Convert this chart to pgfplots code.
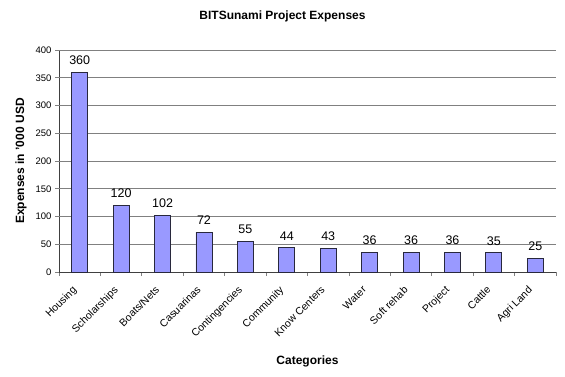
\documentclass[border=0pt]{standalone}
\usepackage{pgfplots}
\pgfplotsset{compat=1.18}
\usepackage{fontspec}
\setmainfont{Liberation Sans}
\definecolor{barfill}{RGB}{153,153,255}
\definecolor{baredge}{RGB}{40,40,60}
\begin{document}
\begin{tikzpicture}[x=1pt,y=1pt]
\useasboundingbox (0,0) rectangle (565,376);
\node[font=\fontsize{12}{14}\selectfont\bfseries] at (282.5,360) {BITSunami Project Expenses};
\begin{axis}[
  at={(59pt,104pt)}, anchor=south west,
  scale only axis, width=497pt, height=222pt,
  ymin=0, ymax=400, ytick={0,50,...,400},
  xmin=-0.5, xmax=11.5,
  xtick={-0.5,0.5,...,11.5},
  xticklabels={},
  extra x ticks={0,1,2,3,4,5,6,7,8,9,10,11},
  extra x tick labels={Housing,Scholarships,Boats/Nets,Casuarinas,Contingencies,Community,Know Centers,Water,Soft rehab,Project,Cattle,Agri Land},
  extra x tick style={major tick length=0pt},
  major tick length=4pt,
  tick align=outside,
  axis x line*=bottom, axis y line*=left,
  axis line style={-, draw=black!75, line width=0.8pt},
  tick style={line width=0.8pt},
  /pgf/number format/assume math mode=true,
  yticklabel style={font=\fontsize{9.5}{11}\selectfont},
  xticklabel style={font=\fontsize{10.5}{12}\selectfont, rotate=45, anchor=north east, inner sep=0pt, xshift=-14.9pt, yshift=-3.6pt},
  ylabel={Expenses in '000 USD},
  ylabel style={font=\fontsize{12}{14}\selectfont\bfseries, at={(axis description cs:-0.0765,0.5)}, anchor=center},
  xlabel={Categories},
  xlabel style={font=\fontsize{12}{14}\selectfont\bfseries, at={(axis description cs:0.5,-0.405)}, anchor=center},
  clip=false,
]
% horizontal grid lines
\addplot[draw=black!50, line width=0.9pt, mark=none, forget plot] coordinates {(-0.5,50) (11.5,50)};
\addplot[draw=black!50, line width=0.9pt, mark=none, forget plot] coordinates {(-0.5,100) (11.5,100)};
\addplot[draw=black!50, line width=0.9pt, mark=none, forget plot] coordinates {(-0.5,150) (11.5,150)};
\addplot[draw=black!50, line width=0.9pt, mark=none, forget plot] coordinates {(-0.5,200) (11.5,200)};
\addplot[draw=black!50, line width=0.9pt, mark=none, forget plot] coordinates {(-0.5,250) (11.5,250)};
\addplot[draw=black!50, line width=0.9pt, mark=none, forget plot] coordinates {(-0.5,300) (11.5,300)};
\addplot[draw=black!50, line width=0.9pt, mark=none, forget plot] coordinates {(-0.5,350) (11.5,350)};
\addplot[draw=black!50, line width=0.9pt, mark=none, forget plot] coordinates {(-0.5,400) (11.5,400)};
% bars
\addplot[ybar, bar width=16pt, fill=barfill, draw=baredge, line width=0.8pt,
  nodes near coords,
  nodes near coords style={font=\fontsize{12.5}{14}\selectfont, inner sep=0pt, anchor=south, yshift=7pt, text=black}] coordinates {
  (0,360) (1,120) (2,102) (3,72) (4,55) (5,44) (6,43) (7,36) (8,36) (9,36) (10,35) (11,25)
};
\end{axis}
\end{tikzpicture}
\end{document}
